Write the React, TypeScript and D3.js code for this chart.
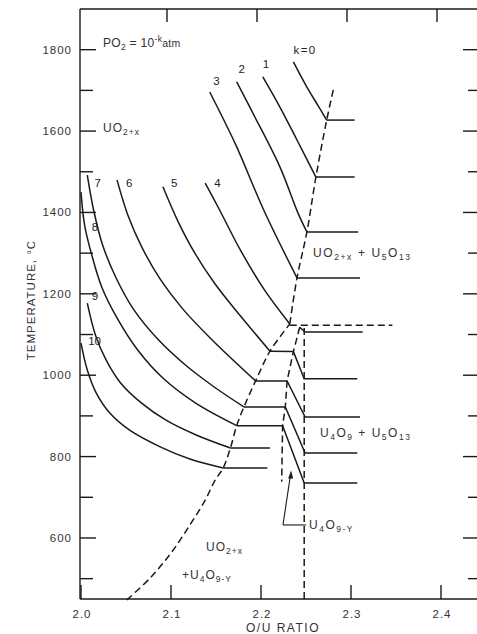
import * as d3 from 'd3';
import React from 'react';

// isobars of the UO2+x single-phase field, [O/U, temperature °C]
const iso0 = [[2.236, 1770], [2.251, 1708], [2.263, 1664], [2.273, 1627]];
const iso1 = [[2.202, 1733], [2.221, 1659], [2.24, 1578], [2.261, 1487]];
const iso2 = [[2.173, 1721], [2.191, 1644], [2.221, 1512], [2.241, 1399], [2.251, 1352]];
const iso3 = [[2.143, 1696], [2.172, 1566], [2.203, 1406], [2.24, 1239]];
const iso4 = [[2.138, 1472], [2.154, 1406], [2.177, 1308], [2.204, 1209], [2.232, 1126]];
const iso5 = [[2.091, 1463], [2.108, 1377], [2.127, 1298], [2.149, 1224], [2.177, 1146], [2.21, 1059]];
const iso6 = [[2.04, 1480], [2.052, 1394], [2.068, 1313], [2.088, 1236], [2.113, 1163], [2.146, 1086], [2.194, 986]];
const iso7 = [[2.007, 1492], [2.014, 1406], [2.024, 1320], [2.039, 1239], [2.059, 1160], [2.086, 1087], [2.116, 1025], [2.148, 971], [2.181, 922]];
const iso8 = [[2.0, 1450], [2.004, 1369], [2.012, 1295], [2.023, 1217], [2.04, 1141], [2.063, 1062], [2.091, 993], [2.127, 932], [2.173, 876]];
const iso9 = [[2.007, 1177], [2.016, 1099], [2.028, 1037], [2.044, 981], [2.067, 932], [2.094, 890], [2.128, 853], [2.166, 821]];
const iso10 = [[2.0, 1079], [2.007, 1013], [2.017, 956], [2.032, 907], [2.054, 865], [2.088, 824], [2.121, 794], [2.158, 772]];

// straight continuations through the two-phase fields and U4O9-y
const tail0 = [[2.273, 1627], [2.304, 1627]];
const tail1 = [[2.261, 1487], [2.304, 1487]];
const tail2 = [[2.251, 1352], [2.308, 1352]];
const tail3 = [[2.24, 1239], [2.31, 1239]];
const tail4 = [[2.243, 1118], [2.249, 1106], [2.313, 1106]];
const tail5 = [[2.21, 1059], [2.236, 1058], [2.248, 991], [2.307, 991]];
const tail6 = [[2.194, 986], [2.229, 986], [2.249, 897], [2.31, 897]];
const tail7 = [[2.181, 922], [2.227, 922], [2.249, 809], [2.307, 809]];
const tail8 = [[2.173, 876], [2.224, 876], [2.248, 735], [2.307, 735]];
const tail9 = [[2.166, 821], [2.21, 821]];
const tail10 = [[2.158, 772], [2.207, 772]];

const isobars = [iso0, iso1, iso2, iso3, iso4, iso5, iso6, iso7, iso8, iso9, iso10];
const tails = [tail0, tail1, tail2, tail3, tail4, tail5, tail6, tail7, tail8, tail9, tail10];

// phase boundaries (dashed)
const upperBoundary = [[2.232, 1126], [2.24, 1239], [2.251, 1352], [2.261, 1487], [2.273, 1627], [2.281, 1708]];
const lowerBoundary = [[2.051, 448], [2.077, 502], [2.101, 566], [2.121, 632], [2.138, 693], [2.149, 742], [2.158, 772],
  [2.166, 821], [2.173, 876], [2.181, 922], [2.194, 986], [2.21, 1059], [2.232, 1126]];
const u4o9Left = [[2.243, 1118], [2.236, 1058], [2.229, 986], [2.227, 922], [2.224, 876], [2.223, 738]];
const u4o9Right = [[2.248, 1116], [2.248, 448]];
const eutectoid = [[2.232, 1123], [2.346, 1123]];

// isobar labels: text, O/U, °C
const kText = ['k=0', '1', '2', '3', '4', '5', '6', '7', '8', '9', '10'];
const kAt = [[2.236, 1790], [2.202, 1756], [2.175, 1742], [2.147, 1714], [2.148, 1462], [2.1, 1462], [2.05, 1462], [2.015, 1462], [2.012, 1355], [2.012, 1184], [2.008, 1074]];

const yMajor = [600, 800, 1000, 1200, 1400, 1600, 1800];
const yMinor = [500, 700, 900, 1100, 1300, 1500, 1700];
const xMajor = [2.0, 2.1, 2.2, 2.3, 2.4];

const INK = '#1a1a1a';

const App: React.FC = () => {
  const width = 477;
  const height = 634;

  const x = d3.scaleLinear().domain([2.0, 2.4]).range([81, 441]);
  const y = d3.scaleLinear().domain([450, 1900]).range([599, 9]);
  const left = 80;
  const right = 478;
  const top = y(1900);
  const bottom = y(450);

  const smooth = d3.line<number[]>().x(d => x(d[0])).y(d => y(d[1])).curve(d3.curveCatmullRom.alpha(0.5));
  const straight = d3.line<number[]>().x(d => x(d[0])).y(d => y(d[1]));

  const dash = '7,4';
  const font = 'Liberation Sans, Arial, sans-serif';
  const sub = 8.5;

  return (
    <svg width={width} height={height} style={{ position: 'absolute', left: 0, top: 0, background: '#fff' }}
      fontFamily={font}>
      <rect width={width} height={height} fill="#fff" />

      {/* frame */}
      <g stroke={INK} strokeWidth={1.4} fill="none">
        <line x1={left} y1={top} x2={left} y2={bottom} />
        <line x1={left} y1={bottom} x2={right} y2={bottom} />
        <line x1={left} y1={top} x2={right} y2={top} />
        {yMajor.map(t => <line key={'ym' + t} x1={left} x2={left + 16} y1={y(t)} y2={y(t)} />)}
        {yMinor.map(t => <line key={'yn' + t} x1={left} x2={left + 13} y1={y(t)} y2={y(t)} />)}
        {yMajor.map(t => <line key={'rm' + t} x1={right} x2={right - 15} y1={y(t)} y2={y(t)} />)}
        {yMinor.map(t => <line key={'rn' + t} x1={right} x2={right - 10} y1={y(t)} y2={y(t)} />)}
        {xMajor.map(v => <line key={'xb' + v} x1={x(v)} x2={x(v)} y1={bottom} y2={bottom - 14} />)}
        {xMajor.slice(1).map(v => <line key={'xt' + v} x1={x(v) - 4} x2={x(v) - 4} y1={top} y2={top + 13} />)}
      </g>

      {/* tick labels */}
      <g fill="#333" fontSize={11.5} letterSpacing={1}>
        {yMajor.map(t => (
          <text key={'yl' + t} x={72} y={y(t)} dy="0.35em" textAnchor="end">{t}</text>
        ))}
        {xMajor.map(v => (
          <text key={'xl' + v} x={x(v) + 1} y={618} textAnchor="middle">{v.toFixed(1)}</text>
        ))}
      </g>
      <text x={283} y={632} textAnchor="middle" fontSize={12} fill="#333" letterSpacing={1.5}>O/U RATIO</text>
      <text transform="translate(35,300) rotate(-90)" textAnchor="middle" fontSize={11.5} fill="#333" letterSpacing={1}>
        TEMPERATURE, °C
      </text>

      {/* isobars */}
      <g stroke={INK} strokeWidth={1.5} fill="none">
        {isobars.map((d, i) => <path key={'iso' + i} d={smooth(d) || ''} />)}
        {tails.map((d, i) => <path key={'tail' + i} d={straight(d) || ''} />)}
      </g>

      {/* phase boundaries */}
      <g stroke={INK} strokeWidth={1.5} fill="none" strokeDasharray={dash}>
        <path d={smooth(upperBoundary) || ''} />
        <path d={smooth(lowerBoundary) || ''} />
        <path d={straight(u4o9Left) || ''} />
        <path d={straight(u4o9Right) || ''} />
        <path d={straight(eutectoid) || ''} />
      </g>

      {/* U4O9-y pointer */}
      <g stroke={INK} strokeWidth={1.1} fill="none">
        <line x1={x(2.2244)} y1={y(632)} x2={x(2.233)} y2={y(758)} />
        <line x1={x(2.2244)} y1={y(632)} x2={x(2.25)} y2={y(632)} />
      </g>
      <path d={`M${x(2.2335)},${y(766)} l-3,8 l5,0 z`} fill={INK} />

      {/* isobar numbers */}
      <g fill="#222" fontSize={11.5}>
        {kText.map((t, i) => (
          <text key={'k' + i} x={x(kAt[i][0])} y={y(kAt[i][1])} letterSpacing={i === 0 ? 1.5 : 0}>{t}</text>
        ))}
      </g>

      {/* field labels */}
      <g fill="#333" fontSize={12} letterSpacing={1}>
        <text x={103} y={47} letterSpacing={0.3}>
          PO<tspan fontSize={sub} dy={3}>2</tspan>
          <tspan dy={-3}>{' = 10'}</tspan>
          <tspan fontSize={sub} dy={-5}>-k</tspan>
          <tspan dy={5} fontSize={10.5}>atm</tspan>
        </text>
        <text x={103} y={132}>
          UO<tspan fontSize={sub} dy={3}>2+x</tspan>
        </text>
        <text x={313} y={257} letterSpacing={1.6}>
          UO<tspan fontSize={sub} dy={3}>2+x</tspan>
          <tspan dy={-3}>{'  +  U'}</tspan>
          <tspan fontSize={sub} dy={3}>5</tspan>
          <tspan dy={-3}>O</tspan>
          <tspan fontSize={sub} dy={3}>13</tspan>
        </text>
        <text x={320} y={437} letterSpacing={1.5}>
          U<tspan fontSize={sub} dy={3}>4</tspan>
          <tspan dy={-3}>O</tspan>
          <tspan fontSize={sub} dy={3}>9</tspan>
          <tspan dy={-3}>{'  +  U'}</tspan>
          <tspan fontSize={sub} dy={3}>5</tspan>
          <tspan dy={-3}>O</tspan>
          <tspan fontSize={sub} dy={3}>13</tspan>
        </text>
        <text x={309} y={529} letterSpacing={1.5}>
          U<tspan fontSize={sub} dy={3}>4</tspan>
          <tspan dy={-3}>O</tspan>
          <tspan fontSize={sub} dy={3}>9-Y</tspan>
        </text>
        <text x={206} y={551}>
          UO<tspan fontSize={sub} dy={3}>2+x</tspan>
        </text>
        <text x={182} y={579}>
          +U<tspan fontSize={sub} dy={3}>4</tspan>
          <tspan dy={-3}>O</tspan>
          <tspan fontSize={sub} dy={3}>9-Y</tspan>
        </text>
      </g>
    </svg>
  );
};

export default App;
